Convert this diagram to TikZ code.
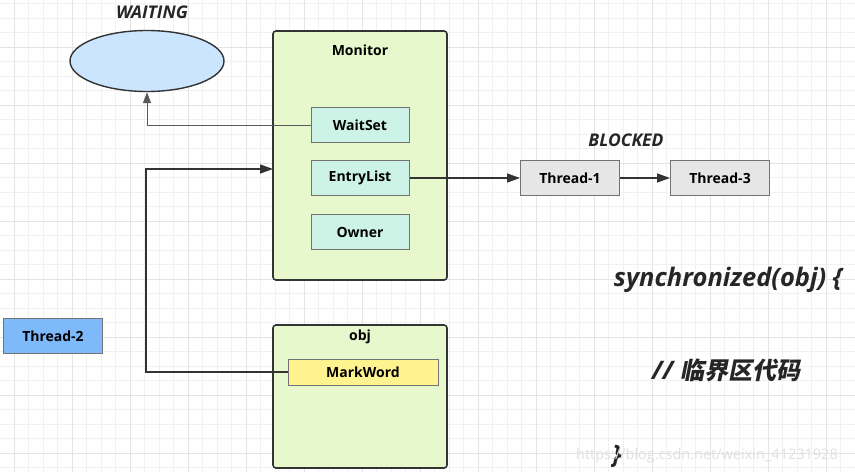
\documentclass[tikz,border=0pt]{standalone}
\usepackage{fontspec}
\setmainfont{Open Sans}
\newfontfamily\cjk[FakeSlant=0.2]{Noto Sans CJK SC}
\usetikzlibrary{shapes,arrows.meta}
\definecolor{mon_green}{RGB}{230,248,204}
\definecolor{slot_mint}{RGB}{204,243,229}
\definecolor{wait_blue}{RGB}{204,229,255}
\definecolor{thr_blue}{RGB}{126,185,250}
\definecolor{thr_gray}{RGB}{230,230,230}
\definecolor{mw_yellow}{RGB}{255,243,143}
\definecolor{line_dark}{RGB}{51,51,51}
\definecolor{grid_minor}{RGB}{241,241,241}
\definecolor{grid_major}{RGB}{228,228,228}
\tikzstyle{box}=[rectangle,draw=line_dark,line width=1.6pt,rounded corners=3pt,
  fill=mon_green,minimum width=174pt]
\tikzstyle{slot}=[rectangle,draw=black!55,line width=1pt,fill=slot_mint,
  minimum width=98pt,minimum height=35pt,font=\bfseries\fontsize{14}{16}\selectfont]
\tikzstyle{thr}=[rectangle,draw=black!55,line width=1pt,fill=thr_gray,
  minimum width=99pt,minimum height=35pt,font=\bfseries\fontsize{14}{16}\selectfont]
\tikzstyle{title}=[font=\bfseries\fontsize{14}{16}\selectfont]
\tikzstyle{state}=[font=\bfseries\itshape\fontsize{17.5}{20}\selectfont,text=black!85]
\tikzstyle{code}=[font=\bfseries\itshape\fontsize{25.5}{28}\selectfont,text=black!85]
\tikzstyle{arr}=[-{Triangle[length=13pt,width=9pt]},draw=line_dark,line width=1.4pt]

\begin{document}
\begin{tikzpicture}[x=1pt,y=-1pt]
        \useasboundingbox (0,0) rectangle (855,472);
        \fill[white] (0,0) rectangle (855,472);
        % grid
        \foreach \i in {0,...,59} {
          \draw[grid_minor,line width=0.8pt] (14.5*\i-0.5,0) -- (14.5*\i-0.5,472);
        }
        \foreach \i in {0,...,33} {
          \draw[grid_minor,line width=0.8pt] (0,14.5*\i+3.5) -- (855,14.5*\i+3.5);
        }
        \foreach \i in {0,...,14} {
          \draw[grid_major,line width=1pt] (58*\i+14,0) -- (58*\i+14,472);
        }
        \foreach \i in {0,...,8} {
          \draw[grid_major,line width=1pt] (0,58*\i-11) -- (855,58*\i-11);
        }
        \node [style=state] (wlbl) at (152,12) {WAITING};
        \node [ellipse,draw=line_dark,line width=1.4pt,fill=wait_blue,
          minimum width=154pt,minimum height=61pt,inner sep=0pt] (wt) at (147,61) {};
        \node [style=box,minimum height=249pt] (mon) at (360,155.5) {};
        \node [style=title] (monlbl) at (360,50) {Monitor};
        \node [style=slot] (ws) at (360,125) {WaitSet};
        \node [style=slot] (el) at (360,178) {EntryList};
        \node [style=slot] (ow) at (360,232) {Owner};
        \node [style=state] (blbl) at (626,140) {BLOCKED};
        \node [style=thr] (t1) at (570,178) {Thread-1};
        \node [style=thr] (t3) at (720,178) {Thread-3};
        \node [style=thr,fill=thr_blue] (t2) at (53,336) {Thread-2};
        \node [style=box,minimum height=143pt] (obj) at (360,396.5) {};
        \node [style=title] (objlbl) at (360,337) {obj};
        \node [rectangle,draw=black!55,line width=1pt,fill=mw_yellow,minimum width=150pt,
          minimum height=26pt,font=\bfseries\fontsize{14}{16}\selectfont] (mw) at (363,372) {MarkWord};
        \coordinate (bend) at (146,372);
        \coordinate (monin) at (273,169);
        \draw [-{Triangle[length=11pt,width=8pt]},draw=black!65,line width=1pt] (ws.west) -| (wt.south);
        \draw [style=arr] (mw.west) -- (bend) |- (monin);
        \draw [style=arr] (el.east) to (t1.west);
        \draw [style=arr] (t1.east) to (t3.west);
        \node [style=code] (sync) at (728,280) {synchronized(obj) \{};
        \node [style=code] (body) at (726,370) {// {\cjk\bfseries\fontsize{24}{28}\selectfont 临界区代码}};
        \node [style=code] (close) at (617,456) {\}};
        \node [text=black!12,font=\fontsize{14.5}{17}\selectfont,anchor=west,inner sep=0pt] (wm) at (576,456) {https://blog.csdn.net/weixin\_41231928};
    \end{tikzpicture}
\end{document}
